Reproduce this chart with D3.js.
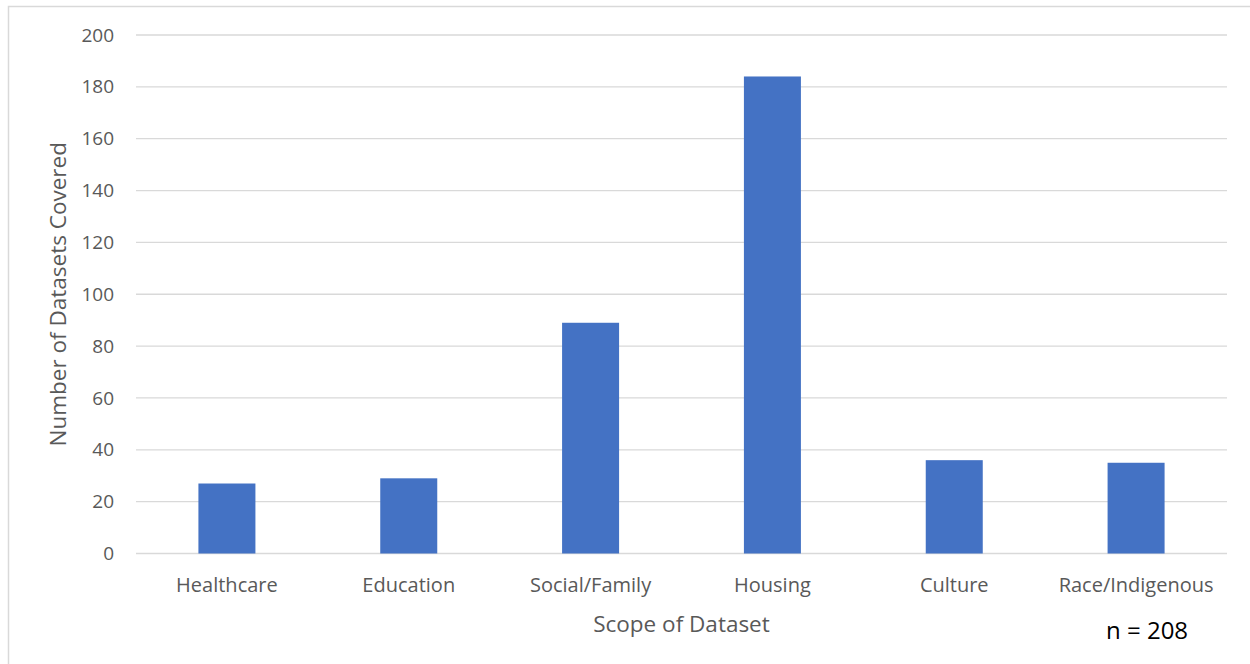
<!DOCTYPE html>
<html>
<head>
<meta charset="utf-8">
<script src="https://cdn.jsdelivr.net/npm/d3@7"></script>
<style>
  html, body { margin: 0; padding: 0; background: #fff; }
  svg { display: block; font-family: "Open Sans", "Noto Sans", sans-serif; }
</style>
</head>
<body>
<svg id="chart" width="1250" height="664"></svg>
<script>
// Number of datasets covering each scope
const categories = ["Healthcare", "Education", "Social/Family", "Housing", "Culture", "Race/Indigenous"];
const counts = [27, 29, 89, 184, 36, 35];
const yTicks = [0, 20, 40, 60, 80, 100, 120, 140, 160, 180, 200];
const xTitle = "Scope of Dataset";
const yTitle = "Number of Datasets Covered";
const note = "n = 208";

const svg = d3.select("#chart");
const W = 1250, H = 664;
const plot = { left: 136, right: 1227, top: 35, bottom: 553.5 };

// outer chart frame
svg.append("rect")
  .attr("x", 8.5).attr("y", 6.5)
  .attr("width", W + 10).attr("height", H + 10)
  .attr("fill", "none").attr("stroke", "#D9D9D9").attr("stroke-width", 1.5);

const x = d3.scaleBand()
  .domain(categories)
  .range([plot.left, plot.right])
  .paddingInner(0.6865)
  .paddingOuter(0.6865 / 2);

const y = d3.scaleLinear().domain([0, 200]).range([plot.bottom, plot.top]);

// horizontal gridlines
svg.append("g")
  .selectAll("line")
  .data(yTicks)
  .join("line")
  .attr("x1", plot.left).attr("x2", plot.right)
  .attr("y1", d => y(d)).attr("y2", d => y(d))
  .attr("stroke", "#D9D9D9").attr("stroke-width", 1.3);

// y axis tick labels
const yAxis = d3.axisLeft(y).tickValues(yTicks).tickSize(0).tickPadding(0);
svg.append("g")
  .attr("transform", `translate(${plot.left - 22},0)`)
  .call(yAxis)
  .call(g => g.select(".domain").remove())
  .call(g => g.selectAll("text")
    .attr("fill", "#595959")
    .style("font-size", "19px")
    .style("font-family", "'Open Sans', sans-serif"));

// bars
svg.append("g")
  .selectAll("rect")
  .data(categories.map((c, i) => ({ c, v: counts[i] })))
  .join("rect")
  .attr("x", d => x(d.c))
  .attr("width", x.bandwidth())
  .attr("y", d => y(d.v))
  .attr("height", d => y(0) - y(d.v))
  .attr("fill", "#4472C4");

// x axis category labels
const xAxis = d3.axisBottom(x).tickSize(0).tickPadding(0);
svg.append("g")
  .attr("transform", `translate(0,${plot.bottom + 24})`)
  .call(xAxis)
  .call(g => g.select(".domain").remove())
  .call(g => g.selectAll("text")
    .attr("fill", "#595959")
    .style("font-size", "20px")
    .style("font-family", "'Open Sans', sans-serif"));

// axis titles
svg.append("text")
  .attr("x", (plot.left + plot.right) / 2)
  .attr("y", 632)
  .attr("text-anchor", "middle")
  .attr("fill", "#595959")
  .style("font-size", "22.5px")
  .text(xTitle);

svg.append("text")
  .attr("transform", `translate(66,${(plot.top + plot.bottom) / 2}) rotate(-90)`)
  .attr("text-anchor", "middle")
  .attr("fill", "#595959")
  .style("font-size", "22.5px")
  .text(yTitle);

// sample size note
svg.append("text")
  .attr("x", 1106)
  .attr("y", 639)
  .attr("fill", "#000")
  .style("font-size", "24px")
  .text(note);
</script>
</body>
</html>
